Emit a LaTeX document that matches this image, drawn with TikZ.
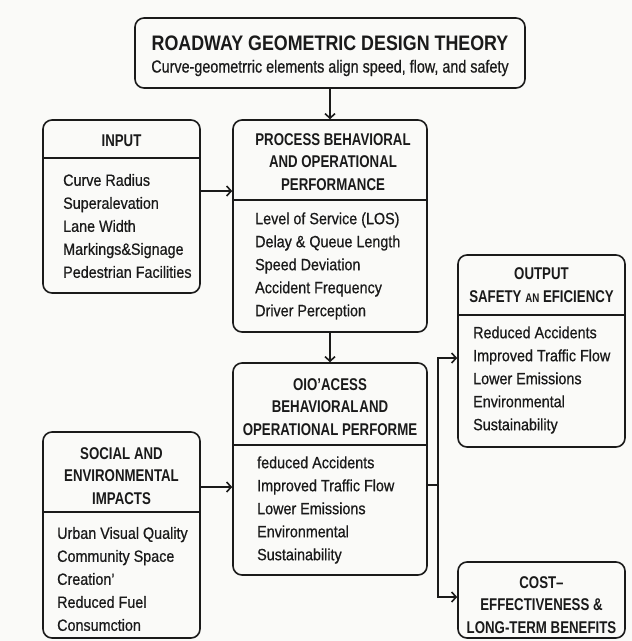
\documentclass[tikz,border=0pt]{standalone}
\usepackage{fontspec}
\setmainfont[FakeStretch=0.88]{Liberation Sans}
\newfontfamily\hfont[FakeStretch=0.78]{Liberation Sans}
\newfontfamily\tfont[FakeStretch=0.85]{Liberation Sans}
\newfontfamily\sfont[FakeStretch=0.82,FakeBold=0.6]{Liberation Sans}
\newfontfamily\ifont[FakeStretch=0.88,FakeBold=0.6]{Liberation Sans}
\usetikzlibrary{arrows.meta,calc}
\definecolor{ink}{HTML}{1A1A1A}
\definecolor{paper}{HTML}{FAFAF8}
\tikzset{
  frame/.style={draw=ink, line width=1.6pt, rounded corners=9pt, inner sep=0pt, fill=paper},
  sepline/.style={draw=ink, line width=1.6pt},
  arr/.style={draw=ink, line width=1.6pt, -{Straight Barb[length=4.5pt,width=10pt]}},
  conn/.style={draw=ink, line width=1.6pt},
  hdr/.style={font=\hfont\fontsize{17}{22.5}\selectfont\bfseries, align=center, text=ink, inner sep=0pt},
  items/.style={font=\ifont\fontsize{16.3}{23}\selectfont, align=left, text=ink, inner sep=0pt, anchor=west},
}
\begin{document}
\begin{tikzpicture}[x=1pt,y=-1pt]
\fill[paper] (0,0) rectangle (632,641);
\useasboundingbox (0,0) rectangle (632,641);

% boxes
\node[frame, minimum width=390pt, minimum height=70pt] (top) at (330,53) {};
\node[frame, minimum width=157pt, minimum height=173pt] (inp) at (121.5,206.5) {};
\node[frame, minimum width=194pt, minimum height=212pt] (proc) at (330,226) {};
\node[frame, minimum width=194pt, minimum height=212pt] (low) at (330,469) {};
\node[frame, minimum width=167pt, minimum height=192pt] (out) at (541.5,351) {};
\node[frame, minimum width=157pt, minimum height=206pt] (soc) at (121.5,535) {};
\node[frame, minimum width=167pt, minimum height=76pt] (cost) at (541.5,600) {};

% header separators
\draw[sepline] (inp.west |- 0,158) -- (inp.east |- 0,158);
\draw[sepline] (proc.west |- 0,200) -- (proc.east |- 0,200);
\draw[sepline] (low.west |- 0,445) -- (low.east |- 0,445);
\draw[sepline] (out.west |- 0,315) -- (out.east |- 0,315);
\draw[sepline] (soc.west |- 0,512) -- (soc.east |- 0,512);

% top texts
\node[font=\tfont\fontsize{21}{24}\selectfont\bfseries, text=ink, inner sep=0pt] (ttl) at (330,43) {ROADWAY GEOMETRIC DESIGN THEORY};
\node[font=\sfont\fontsize{17.5}{20}\selectfont, text=ink, inner sep=0pt] (sub) at (330,68) {Curve-geometrric elements align speed, flow, and safety};

% input
\node[hdr] (inph) at (121.5,141) {INPUT};
\node[items] (inpi) at (63,226) {Curve Radius\\Superalevation\\Lane Width\\Markings\&Signage\\Pedestrian Facilities};

% process
\node[hdr] (proch) at (333,162) {PROCESS BEHAVIORAL\\AND OPERATIONAL\\PERFORMANCE};
\node[items] (proci) at (255,266) {Level of Service (LOS)\\Delay \& Queue Length\\Speed Deviation\\Accident Frequency\\Driver Perception};

% lower process
\node[hdr] (lowh) at (330,407) {OIO’ACESS\\BEHAVIORAL\kern1pt AND\\OPERATIONAL PERFORME};
\node[items] (lowi) at (257,510) {feduced Accidents\\Improved Traffic Flow\\Lower Emissions\\Environmental\\Sustainability};

% output
\node[hdr] (outh) at (541.5,285) {OUTPUT\\SAFETY {\fontsize{12.5}{14}\selectfont AN} EFICIENCY};
\node[items] (outi) at (473,380) {Reduced Accidents\\Improved Traffic Flow\\Lower Emissions\\Environmental\\Sustainability};

% social
\node[hdr] (soch) at (121.5,476) {SOCIAL AND\\ENVIRONMENTAL\\IMPACTS};
\node[items] (soci) at (57,579) {Urban Visual Quality\\Community Space\\Creation’\\Reduced Fuel\\Consumction};

% cost
\node[hdr] (costh) at (541.5,605) {COST–\\EFFECTIVENESS \&\\LONG-TERM BENEFITS};

% connectors
\draw[arr] (top.south) -- (proc.north);
\draw[arr] (proc.south) -- (low.north);
\draw[arr] ([yshift=15.5pt]inp.east) coordinate (a1) -- (a1 -| proc.west);
\draw[arr] ([yshift=48pt]soc.east) coordinate (a2) -- (a2 -| low.west);
\coordinate (j0) at ([yshift=-16pt]low.east);
\coordinate (jv) at ([xshift=10pt]j0);
\draw[conn] (j0) -- (jv);
\draw[arr] (jv) |- ([yshift=-7pt]out.west);
\draw[arr] (jv) |- ([yshift=3pt]cost.west);
\end{tikzpicture}
\end{document}
